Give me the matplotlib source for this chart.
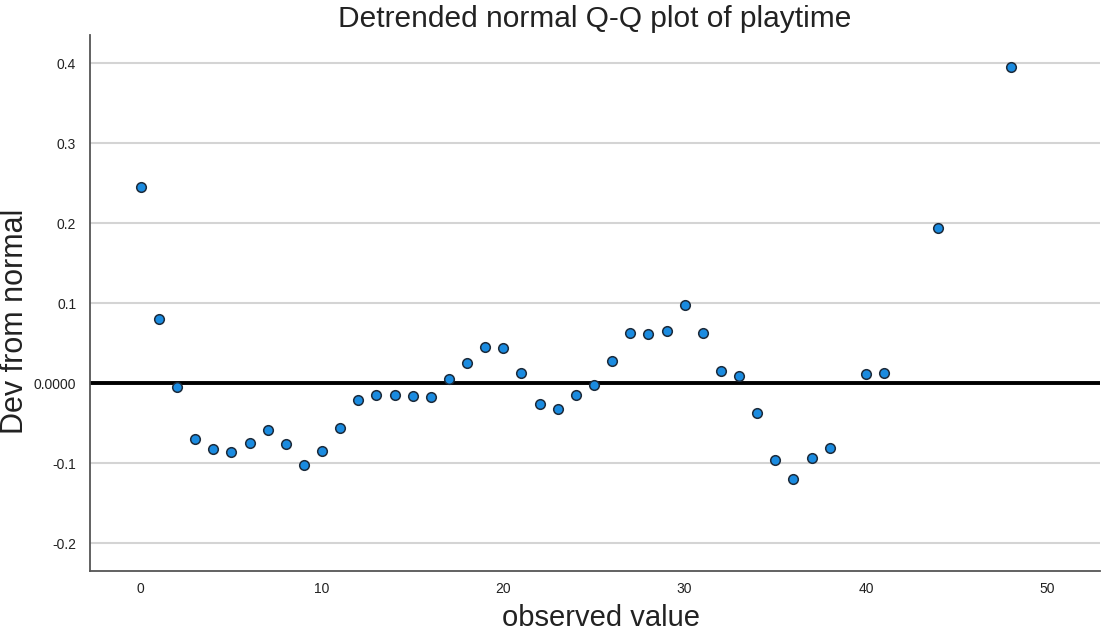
import numpy as np
import matplotlib
matplotlib.use('Agg')
import matplotlib.pyplot as plt

# observed values and their deviation from normal
observed = [0, 1, 2, 3, 4, 5, 6, 7, 8, 9, 10, 11, 12, 13, 14, 15, 16, 17, 18, 19,
            20, 21, 22, 23, 24, 25, 26, 27, 28, 29, 30, 31, 32, 33, 34, 35, 36, 37, 38,
            40, 41, 44, 48]
dev = [0.245, 0.080, -0.005, -0.070, -0.0825, -0.086, -0.075, -0.059, -0.076, -0.1025,
       -0.085, -0.056, -0.021, -0.015, -0.015, -0.016, -0.0175, 0.005, 0.025, 0.045,
       0.044, 0.0125, -0.026, -0.0325, -0.015, -0.0025, 0.0275, 0.0625, 0.061, 0.065,
       0.0975, 0.0625, 0.015, 0.009, -0.0375, -0.096, -0.12, -0.094, -0.081,
       0.011, 0.0125, 0.194, 0.395]

yticks = [-0.2, -0.1, 0.0, 0.1, 0.2, 0.3, 0.4]
ytick_labels = ['-0.2', '-0.1', '0.0000', '0.1', '0.2', '0.3', '0.4']
xticks = [0, 10, 20, 30, 40, 50]

plt.rcParams['font.family'] = ['Liberation Sans', 'DejaVu Sans']

fig = plt.figure(figsize=(11.02, 6.32), dpi=100)
ax = fig.add_axes([0.0817, 0.0965, 0.9163, 0.8481])

ax.set_xlim(-2.8, 52.9)
ax.set_ylim(-0.235, 0.435)

for yv in yticks:
    if yv != 0:
        ax.axhline(yv, color='#d4d4d4', lw=1.5, zorder=0)
ax.axhline(0, color='black', lw=2.8, zorder=1)

ax.scatter(observed, dev, s=48, facecolor='#1a8be0', edgecolor='#1c2a3a',
           linewidths=1.1, zorder=3)

ax.set_yticks(yticks)
ax.set_yticklabels(ytick_labels)
ax.set_xticks(xticks)
ax.tick_params(length=0, labelsize=10, colors='#222222')
ax.tick_params(axis='x', pad=8)
ax.tick_params(axis='y', pad=10)

for s in ['top', 'right']:
    ax.spines[s].set_visible(False)
for s in ['left', 'bottom']:
    ax.spines[s].set_color('#555555')
    ax.spines[s].set_linewidth(1.3)

ax.set_title('Detrended normal Q-Q plot of playtime', fontsize=21.5, pad=6,
             color='#222222')
ax.set_xlabel('observed value', fontsize=21, color='#222222', va='center')
ax.xaxis.set_label_coords(0.506, -0.088)
ax.set_ylabel('Dev from normal', fontsize=22, color='#222222', va='center')
ax.yaxis.set_label_coords(-0.0745, 0.465)

fig.savefig('out.png', dpi=100)
